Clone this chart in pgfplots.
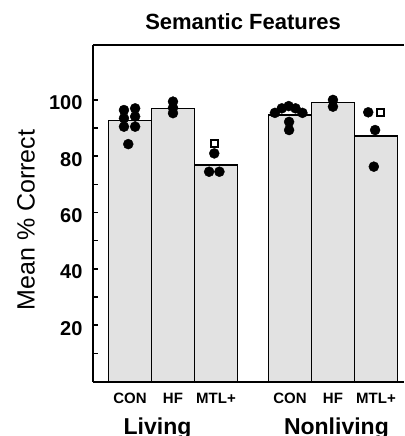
\documentclass[border=0pt]{standalone}
\usepackage{pgfplots}
\pgfplotsset{compat=1.18}
\usepackage{fontspec}
\setmainfont{Liberation Sans}
\definecolor{barfill}{HTML}{E2E2E2}
\begin{document}
\begin{tikzpicture}
\begin{axis}[
  scale only axis,
  clip=false,
  width=311pt, height=336.5pt,
  xmin=-0.86, xmax=6.372,
  ymin=0, ymax=119.5,
  axis x line=box, axis y line=left,
  axis line style={line width=2pt, -},
  ytick={20,40,60,80,100},
  minor ytick={10,30,50,70,90},
  tick align=inside,
  major tick length=5pt, minor tick length=5pt,
  y tick style={line width=1.5pt, black},
  minor y tick style={line width=1.5pt, black},
  xtick={0,1,2,3.72,4.72,5.72},
  xticklabels={CON,HF,MTL+,CON,HF,MTL+},
  x tick style={draw=none},
  /pgf/number format/assume math mode=true,
  yticklabel style={font=\bfseries\fontsize{20}{20}\selectfont, xshift=-7pt, yshift=-3pt},
  xticklabel style={font=\bfseries\fontsize{15}{15}\selectfont, anchor=base, yshift=-22pt},
  ylabel={Mean \% Correct},
  ylabel style={at={(axis description cs:-0.2154,0.48)}, anchor=center, font=\fontsize{25}{25}\selectfont},
]
\addplot[ybar, bar width=1, fill=barfill, draw=black, line width=1.5pt]
  coordinates {(0,92.6) (1,97.0) (2,76.9) (3.72,94.7) (4.72,99.0) (5.72,87.2)};
% individual subjects (filled dots)
\addplot[only marks, mark=*, mark size=5pt, black] coordinates {
  (-0.14,96.4) (0.12,97.0) (-0.14,93.5) (0.12,94.1) (-0.14,90.5) (0.12,90.5) (-0.04,84.3)
  (1,99.4) (1,97.2) (1,95.3)
  (1.84,74.5) (2.08,74.5) (1.96,81.0)
  (3.37,95.4) (3.53,97.0) (3.69,97.8) (3.85,97.0) (4.01,95.4) (3.70,92.2) (3.70,89.3)
  (4.72,100.0) (4.72,97.6)
  (5.54,95.6) (5.70,89.3) (5.67,76.3)
};
% open squares
\addplot[only marks, mark=square*, mark size=3.5pt, mark options={fill=white, draw=black, line width=1.5pt}] coordinates {
  (1.96,84.6) (5.83,95.6)
};
\node[anchor=base, font=\bfseries\fontsize{22}{22}\selectfont] at (axis cs:2.63,119.5) [yshift=15pt] {Semantic Features};
\node[anchor=base, font=\bfseries\fontsize{23}{23}\selectfont] at (axis cs:0.64,0) [yshift=-52.5pt] {Living};
\node[anchor=base, font=\bfseries\fontsize{23}{23}\selectfont] at (axis cs:4.80,0) [yshift=-52.5pt] {Nonliving};
\coordinate (SW) at (rel axis cs:0,0);
\coordinate (NE) at (rel axis cs:1,1);
\end{axis}
\pgfresetboundingbox
\path[use as bounding box] ([shift={(-93pt,-54.5pt)}]SW) rectangle ([shift={(0pt,45pt)}]NE);
\end{tikzpicture}
\end{document}
